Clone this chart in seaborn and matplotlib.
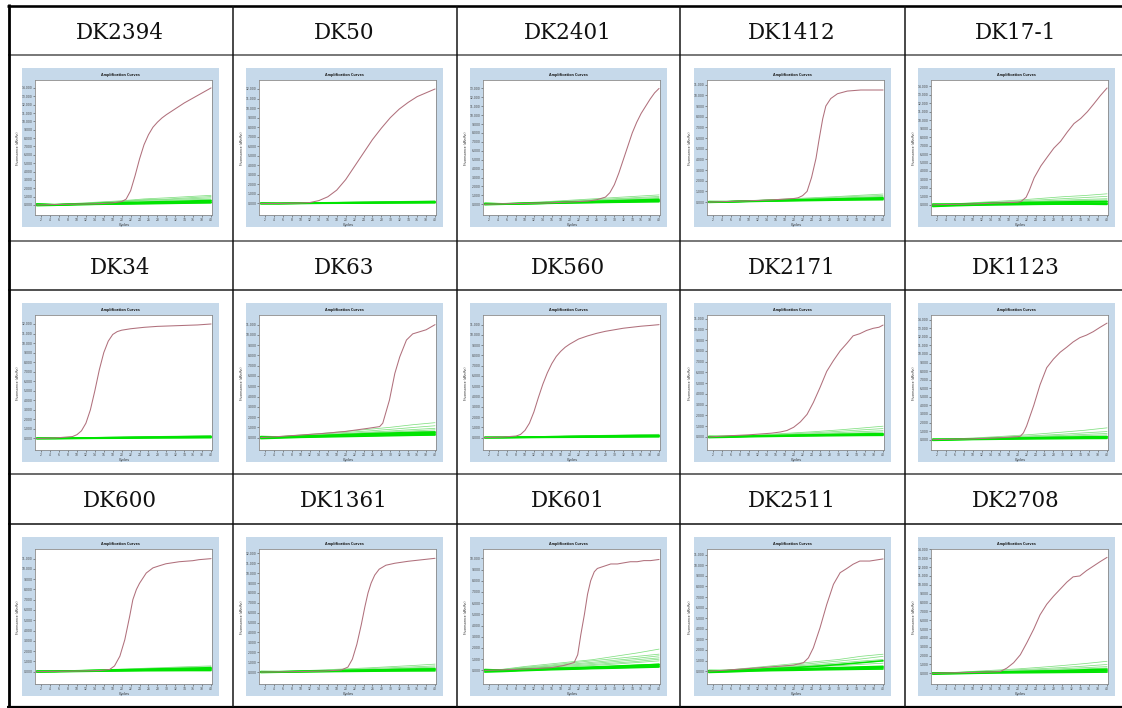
import numpy as np
import pandas as pd
import matplotlib
matplotlib.use("Agg")
import matplotlib.pyplot as plt
from matplotlib.lines import Line2D
import seaborn as sns

sns.set_theme(style="white")
plt.rcParams['font.family'] = ['DejaVu Sans']

# ---------------- data ----------------
SAMPLES = ["DK2394", "DK50", "DK2401", "DK1412", "DK17-1",
           "DK34", "DK63", "DK560", "DK2171", "DK1123",
           "DK600", "DK1361", "DK601", "DK2511", "DK2708"]

RED_CYCLES = [
    [1, 5, 10, 15, 18, 20, 21, 22, 23, 24, 25, 26, 27, 28, 29, 30, 32, 34, 36, 38, 40],
    [1, 5, 10, 12, 14, 16, 18, 20, 22, 24, 26, 28, 30, 32, 34, 36, 38, 40],
    [1, 5, 10, 15, 20, 24, 26, 28, 29, 30, 31, 32, 33, 34, 35, 36, 37, 38, 39, 40],
    [1, 5, 10, 15, 20, 21, 22, 23, 24, 25, 25.7, 26.5, 27.2, 28.3, 29.8, 32, 35, 40],
    [1, 5, 10, 15, 20, 20.7, 21.9, 22.6, 23.7, 25.2, 26.7, 28.1, 29.6, 31.1, 32.6, 34.1, 35.6, 37, 38.5, 40],
    [1, 5, 9, 10, 11, 12, 13, 14, 15, 16, 17, 18, 19, 20, 22, 25, 28, 31, 34, 37, 40],
    [1, 5, 10, 15, 20, 25, 27.6, 28.3, 29.8, 31, 32.1, 33.6, 35, 38, 40],
    [1, 5, 8, 9, 10, 11, 12, 13, 14, 15, 16, 17, 18, 19, 20, 22, 24, 26, 28, 30, 32, 34, 36, 38, 40],
    [1, 5, 10, 15, 17, 18.5, 20, 21.5, 23, 24.4, 25.9, 27.4, 28.9, 30.4, 31.9, 33.3, 34.8, 36.3, 37.8, 39.1, 40],
    [1, 5, 10, 15, 20, 20.6, 21.3, 22, 22.8, 23.6, 24.3, 25, 26.5, 28, 29.5, 31, 32.4, 33.9, 35.4, 36.9, 38.4, 40],
    [1, 5, 10, 15, 17.3, 18.4, 19.6, 20.7, 21.8, 22.5, 23.3, 24, 25.5, 27, 28.4, 29.9, 32.9, 35.9, 37.3, 40],
    [1, 5, 10, 15, 19, 20.5, 21.5, 22.5, 23.5, 24.3, 25, 25.7, 26.5, 27.5, 29, 31, 34, 37, 40],
    [1, 5, 10, 15.9, 18.8, 21, 21.8, 22.5, 23.3, 24, 24.7, 25.5, 26.2, 27.7, 29.2, 30.7, 32.1, 33.6, 35.1, 36.6, 38.1, 40],
    [1, 5, 10, 17, 20, 22.2, 23.3, 24.4, 25.9, 27.4, 28.9, 30.4, 31.9, 33.3, 34.8, 37, 38.5, 40],
    [1, 5, 10, 14, 16.1, 17.6, 19.1, 20.6, 22.1, 23.6, 25, 26.5, 28, 29.5, 31, 32.4, 33.9, 35.4, 36.9, 38.4, 40],
]

RED_VALUES = [
    [0.0, 0.05, 0.1, 0.15, 0.25, 0.4, 0.7, 1.7, 3.5, 5.5, 7.2, 8.4, 9.3, 9.9, 10.4, 10.8, 11.5, 12.2, 12.8, 13.4, 14.0],
    [0.0, 0.0, 0.05, 0.1, 0.3, 0.7, 1.4, 2.5, 3.9, 5.3, 6.7, 7.9, 9.0, 9.9, 10.6, 11.2, 11.6, 12.0],
    [0.0, 0.05, 0.1, 0.15, 0.25, 0.35, 0.5, 0.8, 1.3, 2.2, 3.5, 5.0, 6.5, 8.0, 9.2, 10.2, 11.0, 11.8, 12.5, 13.0],
    [0.0, 0.05, 0.12, 0.2, 0.33, 0.4, 0.6, 1.0, 2.3, 4.1, 5.9, 7.8, 9.0, 9.7, 10.15, 10.4, 10.5, 10.5],
    [0.0, 0.05, 0.1, 0.2, 0.3, 0.37, 0.9, 1.7, 3.2, 4.6, 5.7, 6.7, 7.5, 8.6, 9.6, 10.2, 11.0, 11.9, 12.9, 13.8],
    [0.0, 0.05, 0.2, 0.4, 0.8, 1.6, 3.0, 5.0, 7.2, 9.0, 10.2, 10.9, 11.2, 11.35, 11.5, 11.65, 11.75, 11.8, 11.85, 11.9, 12.0],
    [0.0, 0.1, 0.25, 0.4, 0.6, 0.9, 1.07, 1.4, 3.66, 6.25, 7.86, 9.5, 10.1, 10.5, 11.0],
    [0.0, 0.05, 0.15, 0.3, 0.7, 1.4, 2.5, 3.9, 5.2, 6.3, 7.2, 7.9, 8.4, 8.8, 9.1, 9.6, 9.9, 10.15, 10.35, 10.5, 10.65, 10.75, 10.85, 10.92, 11.0],
    [0.0, 0.1, 0.2, 0.35, 0.46, 0.6, 0.9, 1.4, 2.1, 3.2, 4.6, 6.1, 7.1, 8.0, 8.7, 9.4, 9.6, 9.9, 10.1, 10.2, 10.4],
    [0.0, 0.05, 0.1, 0.2, 0.35, 0.4, 0.8, 1.6, 2.8, 4.0, 5.2, 6.4, 8.4, 9.4, 10.2, 10.8, 11.4, 11.9, 12.2, 12.6, 13.1, 13.6],
    [0.0, 0.02, 0.05, 0.1, 0.2, 0.55, 1.5, 3.1, 5.4, 7.0, 8.0, 8.6, 9.6, 10.1, 10.3, 10.5, 10.7, 10.8, 10.9, 11.0],
    [0.0, 0.02, 0.05, 0.1, 0.2, 0.5, 1.3, 2.8, 4.8, 6.6, 8.0, 9.0, 9.8, 10.4, 10.8, 11.0, 11.2, 11.35, 11.5],
    [0.0, 0.05, 0.12, 0.24, 0.45, 0.7, 1.4, 3.2, 5.0, 6.8, 8.0, 8.8, 9.1, 9.3, 9.5, 9.5, 9.6, 9.7, 9.7, 9.8, 9.8, 9.9],
    [0.0, 0.1, 0.25, 0.47, 0.57, 0.8, 1.26, 2.2, 4.1, 6.3, 8.2, 9.3, 9.7, 10.1, 10.4, 10.4, 10.5, 10.6],
    [0.0, 0.05, 0.1, 0.15, 0.2, 0.6, 1.2, 2.1, 3.5, 5.0, 6.6, 7.8, 8.7, 9.5, 10.3, 10.9, 11.0, 11.6, 12.1, 12.6, 13.1],
]

GREEN_CYCLES = [1, 5, 10, 15, 20, 25, 30, 35, 40]

GREEN_BRIGHT = [
    [[0.10, 0.00, 0.08, 0.12, 0.18, 0.22, 0.28, 0.32, 0.38],
     [0.00, -0.02, 0.05, 0.10, 0.14, 0.20, 0.22, 0.28, 0.30],
     [0.12, 0.04, 0.10, 0.18, 0.25, 0.30, 0.36, 0.42, 0.50],
     [-0.08, -0.04, 0.04, 0.08, 0.12, 0.14, 0.18, 0.22, 0.26],
     [0.05, 0.02, 0.12, 0.16, 0.28, 0.34, 0.40, 0.46, 0.55]],
    [[0.00, 0.00, 0.02, 0.04, 0.05, 0.07, 0.09, 0.10, 0.12],
     [0.04, 0.02, 0.04, 0.05, 0.08, 0.10, 0.12, 0.14, 0.15],
     [-0.04, -0.03, 0.00, 0.02, 0.03, 0.04, 0.05, 0.06, 0.07],
     [0.02, 0.00, 0.03, 0.07, 0.09, 0.11, 0.14, 0.17, 0.19]],
    [[0.05, 0.02, 0.08, 0.12, 0.18, 0.22, 0.28, 0.32, 0.36],
     [-0.05, 0.00, 0.05, 0.10, 0.15, 0.18, 0.22, 0.25, 0.28],
     [0.10, 0.05, 0.10, 0.16, 0.22, 0.28, 0.34, 0.40, 0.46],
     [0.00, 0.02, 0.06, 0.12, 0.20, 0.26, 0.30, 0.36, 0.40],
     [0.08, 0.04, 0.12, 0.18, 0.24, 0.32, 0.40, 0.48, 0.55]],
    [[0.00, 0.02, 0.08, 0.12, 0.16, 0.20, 0.24, 0.27, 0.30],
     [0.05, 0.04, 0.10, 0.14, 0.18, 0.22, 0.26, 0.30, 0.34],
     [-0.03, 0.00, 0.05, 0.09, 0.12, 0.15, 0.18, 0.20, 0.22],
     [0.02, 0.03, 0.09, 0.15, 0.20, 0.25, 0.30, 0.35, 0.40]],
    [[0.00, 0.00, 0.05, 0.08, 0.10, 0.12, 0.15, 0.18, 0.20],
     [-0.20, -0.12, -0.05, 0.00, 0.03, 0.06, 0.08, 0.08, 0.05],
     [0.05, 0.05, 0.12, 0.16, 0.20, 0.24, 0.28, 0.32, 0.36],
     [-0.10, -0.06, 0.00, 0.04, 0.06, 0.08, 0.10, 0.12, 0.14],
     [0.08, 0.08, 0.14, 0.20, 0.26, 0.30, 0.34, 0.38, 0.42]],
    [[0.00, 0.01, 0.03, 0.05, 0.07, 0.09, 0.11, 0.12, 0.14],
     [0.04, 0.03, 0.05, 0.07, 0.10, 0.12, 0.14, 0.16, 0.18],
     [-0.03, -0.02, 0.00, 0.02, 0.03, 0.05, 0.06, 0.07, 0.08],
     [0.02, 0.02, 0.04, 0.08, 0.10, 0.13, 0.16, 0.19, 0.22]],
    [[0.00, 0.02, 0.08, 0.12, 0.16, 0.20, 0.24, 0.28, 0.30],
     [-0.10, -0.05, 0.02, 0.06, 0.10, 0.14, 0.18, 0.22, 0.25],
     [0.10, 0.06, 0.12, 0.18, 0.24, 0.30, 0.36, 0.42, 0.48],
     [0.05, 0.04, 0.10, 0.14, 0.20, 0.26, 0.32, 0.38, 0.42],
     [0.02, 0.05, 0.12, 0.20, 0.30, 0.38, 0.44, 0.50, 0.55]],
    [[0.00, 0.01, 0.03, 0.05, 0.07, 0.09, 0.10, 0.12, 0.14],
     [0.03, 0.02, 0.04, 0.06, 0.09, 0.11, 0.13, 0.15, 0.17],
     [-0.03, -0.02, 0.00, 0.02, 0.03, 0.04, 0.05, 0.06, 0.07],
     [0.01, 0.02, 0.05, 0.08, 0.11, 0.14, 0.17, 0.20, 0.22]],
    [[0.00, 0.02, 0.06, 0.09, 0.12, 0.15, 0.18, 0.20, 0.22],
     [-0.06, -0.03, 0.02, 0.05, 0.08, 0.10, 0.12, 0.14, 0.15],
     [0.05, 0.04, 0.08, 0.12, 0.16, 0.20, 0.24, 0.28, 0.30],
     [0.02, 0.03, 0.07, 0.10, 0.14, 0.18, 0.20, 0.24, 0.26]],
    [[0.00, 0.02, 0.06, 0.10, 0.14, 0.18, 0.20, 0.24, 0.26],
     [-0.08, -0.04, 0.02, 0.05, 0.08, 0.10, 0.12, 0.14, 0.15],
     [0.06, 0.05, 0.10, 0.14, 0.18, 0.24, 0.28, 0.32, 0.36],
     [0.02, 0.04, 0.08, 0.12, 0.16, 0.22, 0.26, 0.30, 0.34]],
    [[0.00, 0.01, 0.04, 0.07, 0.10, 0.13, 0.15, 0.17, 0.20],
     [-0.05, -0.02, 0.01, 0.04, 0.06, 0.08, 0.09, 0.10, 0.10],
     [0.04, 0.03, 0.07, 0.11, 0.15, 0.19, 0.22, 0.26, 0.30],
     [0.02, 0.03, 0.06, 0.09, 0.13, 0.17, 0.20, 0.24, 0.27],
     [0.01, 0.02, 0.08, 0.12, 0.18, 0.22, 0.28, 0.32, 0.38]],
    [[0.00, 0.01, 0.04, 0.07, 0.10, 0.13, 0.16, 0.19, 0.22],
     [-0.05, -0.02, 0.01, 0.04, 0.06, 0.08, 0.10, 0.11, 0.12],
     [0.05, 0.04, 0.08, 0.12, 0.16, 0.20, 0.24, 0.28, 0.32],
     [0.02, 0.02, 0.07, 0.10, 0.14, 0.19, 0.23, 0.27, 0.30]],
    [[0.00, -0.05, 0.05, 0.10, 0.16, 0.22, 0.28, 0.36, 0.42],
     [-0.15, -0.10, -0.02, 0.05, 0.10, 0.16, 0.20, 0.25, 0.30],
     [0.08, 0.02, 0.10, 0.18, 0.22, 0.30, 0.38, 0.46, 0.52],
     [-0.05, -0.04, 0.04, 0.10, 0.14, 0.20, 0.26, 0.30, 0.36],
     [0.05, 0.00, 0.08, 0.14, 0.20, 0.26, 0.34, 0.44, 0.55]],
    [[0.00, 0.00, 0.06, 0.10, 0.14, 0.18, 0.22, 0.26, 0.30],
     [-0.12, -0.08, 0.00, 0.05, 0.08, 0.12, 0.15, 0.18, 0.20],
     [0.06, 0.04, 0.10, 0.16, 0.22, 0.28, 0.34, 0.40, 0.46],
     [0.02, 0.02, 0.08, 0.12, 0.18, 0.22, 0.28, 0.34, 0.38],
     [0.04, 0.05, 0.14, 0.24, 0.34, 0.46, 0.62, 0.80, 0.98]],
    [[0.00, 0.02, 0.06, 0.10, 0.14, 0.18, 0.21, 0.24, 0.26],
     [-0.10, -0.06, 0.00, 0.04, 0.06, 0.08, 0.10, 0.12, 0.14],
     [0.05, 0.04, 0.10, 0.14, 0.19, 0.24, 0.28, 0.32, 0.36],
     [0.02, 0.03, 0.08, 0.12, 0.18, 0.24, 0.30, 0.40, 0.48]],
]

GREEN_LIGHT = [
    [[0.02, 0.05, 0.20, 0.35, 0.50, 0.72, 0.85, 1.00, 1.15],
     [0.06, 0.04, 0.15, 0.30, 0.45, 0.62, 0.70, 0.86, 1.00],
     [0.00, 0.02, 0.14, 0.26, 0.42, 0.55, 0.64, 0.74, 0.85],
     [0.08, 0.05, 0.12, 0.24, 0.36, 0.58, 0.55, 0.62, 0.70]],
    [[0.00, 0.02, 0.05, 0.09, 0.13, 0.17, 0.20, 0.24, 0.28],
     [0.03, 0.01, 0.04, 0.06, 0.10, 0.14, 0.17, 0.19, 0.23]],
    [[0.02, 0.06, 0.18, 0.30, 0.45, 0.60, 0.75, 0.90, 1.05],
     [0.05, 0.05, 0.14, 0.25, 0.38, 0.50, 0.62, 0.75, 0.88],
     [0.00, 0.03, 0.12, 0.22, 0.32, 0.44, 0.55, 0.66, 0.75],
     [0.06, 0.04, 0.10, 0.20, 0.28, 0.38, 0.46, 0.56, 0.65]],
    [[0.00, 0.05, 0.14, 0.22, 0.32, 0.42, 0.52, 0.64, 0.75],
     [0.03, 0.04, 0.12, 0.20, 0.28, 0.36, 0.45, 0.55, 0.62],
     [0.01, 0.03, 0.10, 0.16, 0.24, 0.30, 0.38, 0.46, 0.52],
     [0.04, 0.05, 0.11, 0.18, 0.22, 0.28, 0.34, 0.42, 0.48]],
    [[0.00, 0.10, 0.25, 0.40, 0.55, 0.75, 0.95, 1.10, 1.30],
     [0.02, 0.06, 0.18, 0.30, 0.45, 0.58, 0.72, 0.86, 1.00],
     [-0.05, 0.04, 0.14, 0.24, 0.35, 0.45, 0.55, 0.64, 0.72],
     [0.05, 0.06, 0.12, 0.22, 0.30, 0.38, 0.46, 0.52, 0.58]],
    [[0.01, 0.03, 0.07, 0.11, 0.15, 0.19, 0.23, 0.27, 0.31],
     [0.03, 0.02, 0.05, 0.08, 0.12, 0.15, 0.18, 0.22, 0.25]],
    [[0.00, 0.10, 0.25, 0.42, 0.60, 0.80, 1.00, 1.25, 1.45],
     [0.05, 0.08, 0.20, 0.34, 0.50, 0.64, 0.80, 0.98, 1.15],
     [-0.05, 0.05, 0.16, 0.28, 0.40, 0.52, 0.64, 0.78, 0.90],
     [0.08, 0.06, 0.14, 0.24, 0.34, 0.45, 0.55, 0.65, 0.75],
     [0.02, 0.04, 0.12, 0.20, 0.28, 0.36, 0.45, 0.55, 0.62]],
    [[0.01, 0.03, 0.07, 0.12, 0.16, 0.20, 0.24, 0.28, 0.32],
     [0.02, 0.02, 0.05, 0.09, 0.13, 0.16, 0.19, 0.22, 0.26]],
    [[0.00, 0.06, 0.15, 0.25, 0.38, 0.50, 0.65, 0.82, 1.00],
     [0.03, 0.05, 0.12, 0.20, 0.30, 0.40, 0.52, 0.65, 0.78],
     [-0.02, 0.03, 0.10, 0.16, 0.24, 0.32, 0.40, 0.50, 0.58],
     [0.04, 0.04, 0.10, 0.14, 0.20, 0.26, 0.32, 0.38, 0.45]],
    [[0.00, 0.08, 0.20, 0.34, 0.50, 0.68, 0.88, 1.10, 1.38],
     [0.04, 0.06, 0.15, 0.26, 0.38, 0.50, 0.64, 0.80, 0.95],
     [-0.03, 0.04, 0.12, 0.20, 0.30, 0.40, 0.50, 0.62, 0.72],
     [0.05, 0.05, 0.10, 0.16, 0.24, 0.32, 0.40, 0.48, 0.55]],
    [[0.00, 0.04, 0.10, 0.17, 0.24, 0.32, 0.40, 0.48, 0.55],
     [0.03, 0.03, 0.08, 0.14, 0.20, 0.26, 0.33, 0.40, 0.46],
     [0.01, 0.02, 0.07, 0.12, 0.17, 0.22, 0.28, 0.34, 0.40]],
    [[0.00, 0.05, 0.13, 0.22, 0.32, 0.42, 0.54, 0.66, 0.80],
     [0.03, 0.04, 0.10, 0.18, 0.26, 0.34, 0.43, 0.52, 0.62],
     [0.01, 0.03, 0.08, 0.14, 0.21, 0.27, 0.34, 0.42, 0.50],
     [0.04, 0.03, 0.08, 0.12, 0.18, 0.23, 0.29, 0.35, 0.42]],
    [[0.00, 0.10, 0.35, 0.55, 0.75, 0.95, 1.25, 1.55, 1.90],
     [0.05, 0.08, 0.28, 0.45, 0.65, 0.85, 1.05, 1.25, 1.45],
     [-0.05, 0.05, 0.22, 0.38, 0.55, 0.72, 0.90, 1.08, 1.30],
     [0.02, 0.06, 0.18, 0.34, 0.48, 0.62, 0.78, 0.95, 1.12],
     [0.08, 0.04, 0.15, 0.28, 0.40, 0.52, 0.66, 0.80, 1.00],
     [-0.08, 0.00, 0.12, 0.22, 0.32, 0.44, 0.56, 0.70, 0.85]],
    [[0.00, 0.10, 0.30, 0.50, 0.70, 0.90, 1.10, 1.40, 1.60],
     [0.04, 0.08, 0.24, 0.40, 0.58, 0.76, 0.95, 1.15, 1.40],
     [-0.04, 0.06, 0.20, 0.34, 0.48, 0.62, 0.78, 0.95, 1.10],
     [0.06, 0.05, 0.16, 0.28, 0.40, 0.52, 0.66, 0.80, 0.95],
     [0.02, 0.04, 0.12, 0.22, 0.32, 0.42, 0.52, 0.64, 0.75]],
    [[0.00, 0.08, 0.22, 0.36, 0.50, 0.68, 0.88, 1.10, 1.36],
     [0.04, 0.06, 0.16, 0.28, 0.40, 0.52, 0.66, 0.82, 1.00],
     [-0.03, 0.04, 0.12, 0.22, 0.32, 0.42, 0.52, 0.64, 0.76],
     [0.05, 0.04, 0.10, 0.18, 0.26, 0.34, 0.42, 0.50, 0.60]],
]

X_TICKS = list(range(2, 41, 2))

# ---------------- styling ----------------
W, H = 1122, 708
BG_BLUE = "#c6d9ea"
BRIGHT = "#00e400"
LIGHT = "#80df80"
RED = "#b0707c"
COL_X = [8, 232, 456, 680, 904]
HEADER_BOTTOM = [54, 289, 523]
HEADER_BASE = [39.3, 273.8, 506.8]

fig = plt.figure(figsize=(W / 100, H / 100), dpi=100)
fig.patch.set_facecolor("white")


def fx(px):
    return px / W


def fy(py):
    return 1 - py / H


def long_frame(lines):
    rows = []
    for j, vals in enumerate(lines):
        for x, v in zip(GREEN_CYCLES, vals):
            rows.append({"line": j, "cycle": x, "value": v})
    return pd.DataFrame(rows)


for i, name in enumerate(SAMPLES):
    r, c = divmod(i, 5)
    cell_l = COL_X[c]
    # header text
    fig.text(fx(cell_l + 112), fy(HEADER_BASE[r]), name, ha="center", va="baseline",
             fontsize=15.5, family="DejaVu Serif", color="#111111")

    img_l = cell_l + 13.8
    img_t = HEADER_BOTTOM[r] + 13.6
    img_w, img_h = 197, 159
    bg = fig.add_axes([fx(img_l), fy(img_t + img_h), img_w / W, img_h / H])
    bg.set_facecolor(BG_BLUE)
    bg.set_xticks([])
    bg.set_yticks([])
    for s in bg.spines.values():
        s.set_visible(False)
    bg.text(0.5, 1 - 7.5 / img_h, "Amplification Curves", transform=bg.transAxes,
            ha="center", va="center", fontsize=2.4, fontweight="bold", color="#222222")

    pl, pt = img_l + 13.6, img_t + 12.8
    pw, ph = 177, 135
    ax = fig.add_axes([fx(pl), fy(pt + ph), pw / W, ph / H])
    ax.set_facecolor("white")

    df_red = pd.DataFrame({"cycle": RED_CYCLES[i], "value": RED_VALUES[i]})
    df_b = long_frame(GREEN_BRIGHT[i])
    df_l = long_frame(GREEN_LIGHT[i])

    sns.lineplot(data=df_l, x="cycle", y="value", units="line", estimator=None,
                 color=LIGHT, linewidth=0.55, ax=ax, legend=False)
    sns.lineplot(data=df_b, x="cycle", y="value", units="line", estimator=None,
                 color=BRIGHT, linewidth=1.15, ax=ax, legend=False)
    sns.lineplot(data=df_red, x="cycle", y="value", color=RED, linewidth=0.75,
                 ax=ax, legend=False)

    top = max(RED_VALUES[i]) + 0.9
    ax.set_xlim(0.7, 40.3)
    ax.set_ylim(-1.25, top)
    yt = list(range(0, int(np.floor(top)) + 1))
    ax.set_yticks(yt)
    ax.set_yticklabels([f"{v:.3f}" for v in yt])
    ax.set_xticks(X_TICKS)
    ax.set_xticklabels([str(v) for v in X_TICKS])
    ax.tick_params(axis="both", labelsize=2.2, length=1.3, width=0.4, pad=0.8,
                   colors="#444444", bottom=True, left=True)
    ax.set_xlabel("Cycles", fontsize=2.4, labelpad=0.6, color="#222222")
    ax.set_ylabel("Fluorescence (dRn/Rn)", fontsize=2.2, labelpad=1.0, color="#222222")
    for s in ax.spines.values():
        s.set_color("#8a8a8a")
        s.set_linewidth(0.6)
        s.set_visible(True)

# ---------------- table lines ----------------
def hline(y, x0, x1, color, lw_px):
    fig.add_artist(Line2D([fx(x0), fx(x1)], [fy(y), fy(y)], transform=fig.transFigure,
                          color=color, linewidth=lw_px * 0.72, solid_capstyle="butt"))


def vline(x, y0, y1, color, lw_px):
    fig.add_artist(Line2D([fx(x), fx(x)], [fy(y0), fy(y1)], transform=fig.transFigure,
                          color=color, linewidth=lw_px * 0.72, solid_capstyle="butt"))


hline(5.5, 7, W, "#000000", 2.6)
hline(54.5, 8, W, "#7a7a7a", 2.0)
hline(240.5, 8, W, "#7a7a7a", 2.0)
hline(289.5, 8, W, "#2a2a2a", 1.6)
hline(473.5, 8, W, "#4a4a4a", 1.6)
hline(523.5, 8, W, "#1a1a1a", 1.6)
hline(706.5, 7, W, "#000000", 2.2)
vline(8.5, 4.2, 707.6, "#000000", 2.8)
for x in COL_X[1:]:
    vline(x + 0.5, 5.5, 707, "#111111", 1.5)

fig.savefig("out.png", dpi=100, facecolor="white")
